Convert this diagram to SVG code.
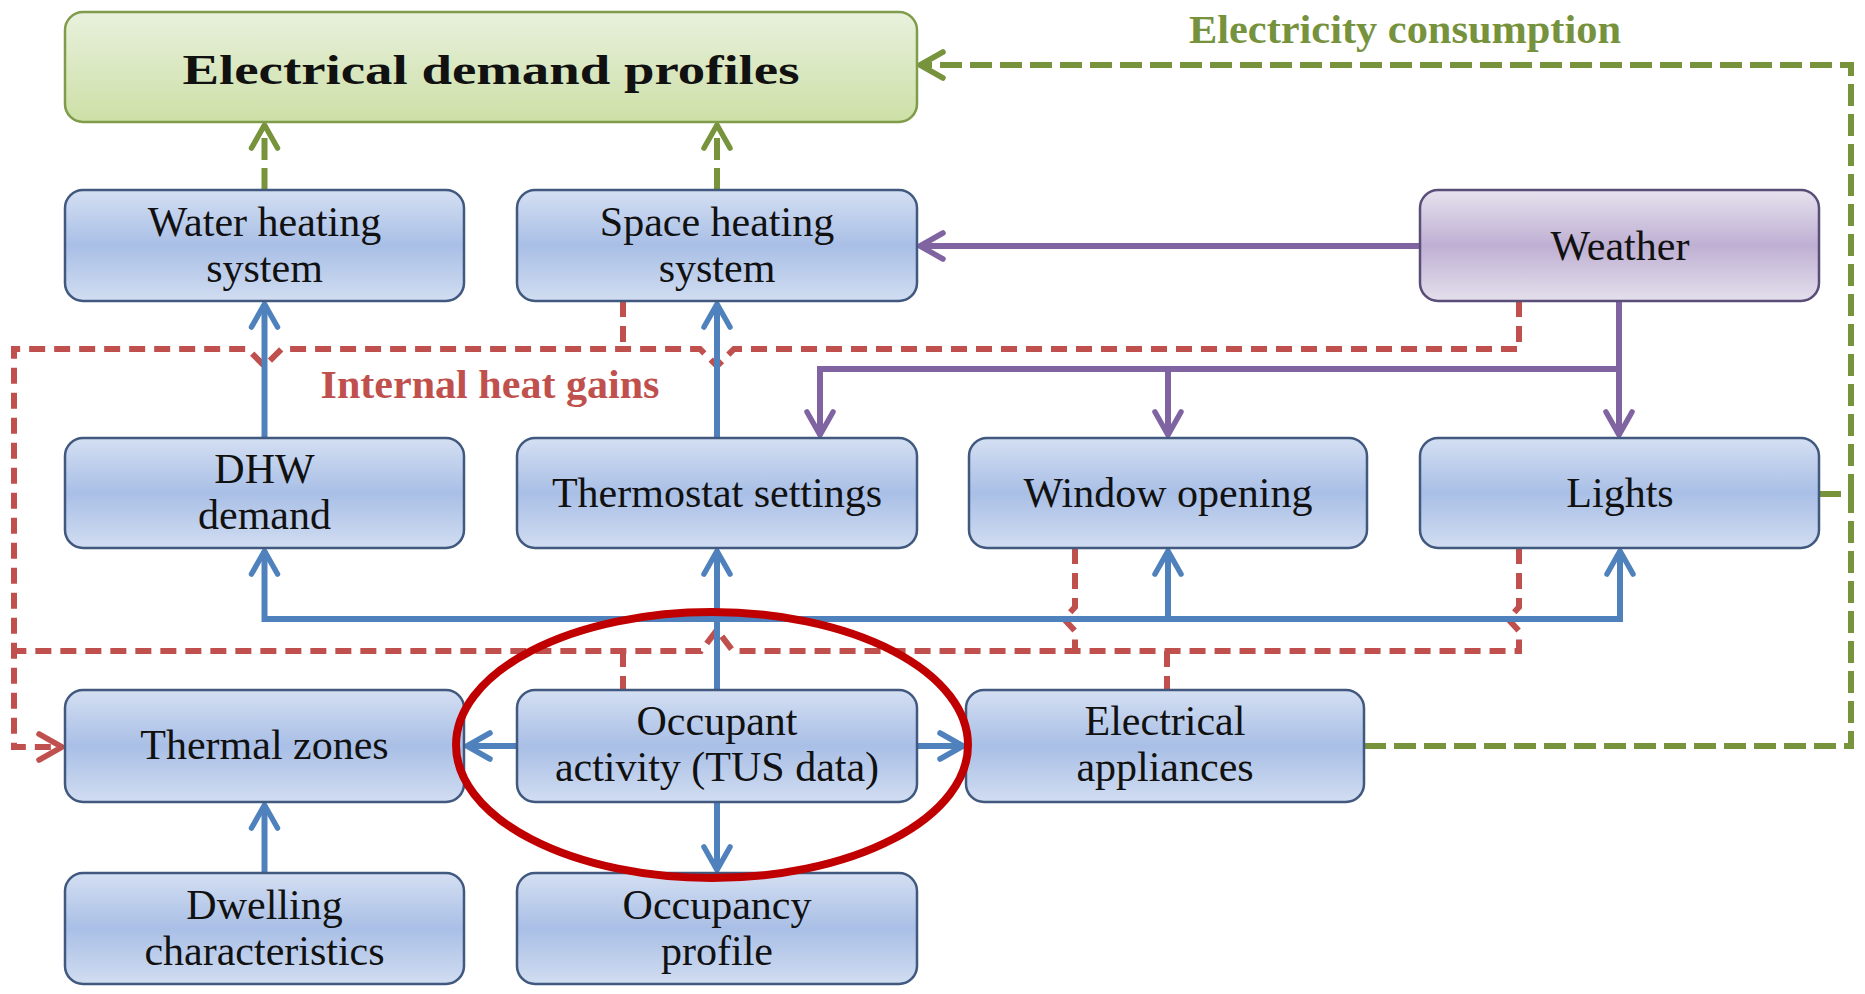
<svg xmlns="http://www.w3.org/2000/svg" width="1865" height="994" viewBox="0 0 1865 994">
<style>
.node rect{stroke-width:2.5}
.blue rect{fill:url(#gBlue);stroke:#41597f}
.t{font-family:"Liberation Serif","Times New Roman",serif;font-size:42px;fill:#111;text-anchor:middle}
.cb{fill:none;stroke:#4f81bd;stroke-width:6}
.cp{fill:none;stroke:#8064a2;stroke-width:6}
.cr{fill:none;stroke:#c0504d;stroke-width:6;stroke-dasharray:16 9}
.cg{fill:none;stroke:#77933c;stroke-width:6;stroke-dasharray:22 8}
.lbl{font-family:"Liberation Serif","Times New Roman",serif;font-weight:bold;font-size:40px;text-anchor:middle}
</style>
<defs>
<linearGradient id="gBlue" x1="0" y1="0" x2="0" y2="1">
<stop offset="0" stop-color="#d4dff2"/><stop offset="0.5" stop-color="#a9bfe6"/><stop offset="1" stop-color="#d1ddf1"/>
</linearGradient>
<linearGradient id="gPurple" x1="0" y1="0" x2="0" y2="1">
<stop offset="0" stop-color="#e6e2ee"/><stop offset="0.5" stop-color="#bfb0d3"/><stop offset="1" stop-color="#e4dfec"/>
</linearGradient>
<linearGradient id="gGreen" x1="0" y1="0" x2="0" y2="1">
<stop offset="0" stop-color="#e9f1dd"/><stop offset="0.55" stop-color="#d9e7bf"/><stop offset="1" stop-color="#cde0a6"/>
</linearGradient>
<marker id="aB" markerUnits="userSpaceOnUse" markerWidth="40" markerHeight="40" refX="30" refY="20" orient="auto-start-reverse" overflow="visible"><path d="M7 7 L30 20 L7 33" fill="none" stroke="#4f81bd" stroke-width="5.5" stroke-linecap="round" stroke-linejoin="round" stroke-dasharray="none"/></marker>
<marker id="aP" markerUnits="userSpaceOnUse" markerWidth="40" markerHeight="40" refX="30" refY="20" orient="auto-start-reverse" overflow="visible"><path d="M7 7 L30 20 L7 33" fill="none" stroke="#8064a2" stroke-width="5.5" stroke-linecap="round" stroke-linejoin="round" stroke-dasharray="none"/></marker>
<marker id="aR" markerUnits="userSpaceOnUse" markerWidth="40" markerHeight="40" refX="30" refY="20" orient="auto" overflow="visible"><path d="M7 7 L30 20 L7 33" fill="none" stroke="#c0504d" stroke-width="5.5" stroke-linecap="round" stroke-linejoin="round" stroke-dasharray="none"/></marker>
<marker id="aG" markerUnits="userSpaceOnUse" markerWidth="40" markerHeight="40" refX="30" refY="20" orient="auto" overflow="visible"><path d="M7 7 L30 20 L7 33" fill="none" stroke="#77933c" stroke-width="5.5" stroke-linecap="round" stroke-linejoin="round" stroke-dasharray="none"/></marker>
</defs>
<rect width="1865" height="994" fill="#ffffff"/>

<g id="connectors">
<!-- green electricity flows -->
<path class="cg" d="M264.5 190 V125" marker-end="url(#aG)"/>
<path class="cg" d="M717 190 V125" marker-end="url(#aG)"/>
<path class="cg" d="M1819 494 H1851 V65 H920" marker-end="url(#aG)"/>
<path class="cg" d="M1364 746 H1851 V494"/>
<!-- red internal heat gains -->
<path class="cr" d="M1519 301 V349 H734 L717 366 L700 349 H281.5 L264.5 366 L247.5 349 H14 V747 H62" marker-end="url(#aR)"/>
<path class="cr" d="M623 301 V349"/>
<path class="cr" d="M1519 548 V607 L1508 619 L1519 631 V651 H733 L717 630 L701 651 H14"/>
<path class="cr" d="M1075 548 V607 L1064 619 L1075 631 V651"/>
<path class="cr" d="M1167 651 V690"/>
<path class="cr" d="M623 651 V690"/>
<!-- purple weather -->
<path class="cp" d="M1421 246 H920" marker-end="url(#aP)"/>
<path class="cp" d="M1619 301 V435" marker-end="url(#aP)"/>
<path class="cp" d="M1619 369 H820 V435" marker-end="url(#aP)"/>
<path class="cp" d="M1168 369 V435" marker-end="url(#aP)"/>
<!-- blue occupant flows -->
<path class="cb" d="M264.5 438 V304" marker-end="url(#aB)"/>
<path class="cb" d="M717 438 V304" marker-end="url(#aB)"/>
<path class="cb" d="M717 690 V551" marker-end="url(#aB)"/>
<path class="cb" d="M264.5 551 V619 H1620 V551" marker-start="url(#aB)" marker-end="url(#aB)"/>
<path class="cb" d="M1168 619 V551" marker-end="url(#aB)"/>
<path class="cb" d="M517 746 H467" marker-end="url(#aB)"/>
<path class="cb" d="M917 746 H963" marker-end="url(#aB)"/>
<path class="cb" d="M717 802 V870" marker-end="url(#aB)"/>
<path class="cb" d="M264.5 873 V805" marker-end="url(#aB)"/>
<text class="lbl" x="1405" y="43" fill="#76923c" textLength="432" lengthAdjust="spacingAndGlyphs">Electricity consumption</text>
<text class="lbl" x="490" y="398" fill="#c0504d" textLength="339" lengthAdjust="spacingAndGlyphs">Internal heat gains</text>
</g>

<g id="electrical-demand-profiles" class="node">
<rect x="65" y="12" width="852" height="110" rx="18" fill="url(#gGreen)" stroke="#7f9c4a"/>
<text class="t" x="491" y="84" font-weight="bold" font-size="56" textLength="617" lengthAdjust="spacingAndGlyphs">Electrical demand profiles</text>
</g>
<g id="water-heating-system" class="node blue">
<rect x="65" y="190" width="399" height="111" rx="18"/>
<text class="t" x="264.5" y="236">Water heating</text><text class="t" x="264.5" y="282">system</text>
</g>
<g id="space-heating-system" class="node blue">
<rect x="517" y="190" width="400" height="111" rx="18"/>
<text class="t" x="717" y="236">Space heating</text><text class="t" x="717" y="282">system</text>
</g>
<g id="weather" class="node">
<rect x="1420" y="190" width="399" height="111" rx="18" fill="url(#gPurple)" stroke="#5a4d78"/>
<text class="t" x="1620" y="260">Weather</text>
</g>
<g id="dhw-demand" class="node blue">
<rect x="65" y="438" width="399" height="110" rx="18"/>
<text class="t" x="264.5" y="483">DHW</text><text class="t" x="264.5" y="529">demand</text>
</g>
<g id="thermostat-settings" class="node blue">
<rect x="517" y="438" width="400" height="110" rx="18"/>
<text class="t" x="717" y="507">Thermostat settings</text>
</g>
<g id="window-opening" class="node blue">
<rect x="969" y="438" width="398" height="110" rx="18"/>
<text class="t" x="1168" y="507">Window opening</text>
</g>
<g id="lights" class="node blue">
<rect x="1420" y="438" width="399" height="110" rx="18"/>
<text class="t" x="1620" y="507">Lights</text>
</g>
<g id="thermal-zones" class="node blue">
<rect x="65" y="690" width="399" height="112" rx="18"/>
<text class="t" x="264.5" y="759">Thermal zones</text>
</g>
<g id="occupant-activity" class="node blue">
<rect x="517" y="690" width="400" height="112" rx="18"/>
<text class="t" x="717" y="735">Occupant</text><text class="t" x="717" y="781">activity (TUS data)</text>
</g>
<g id="electrical-appliances" class="node blue">
<rect x="966" y="690" width="398" height="112" rx="18"/>
<text class="t" x="1165" y="735">Electrical</text><text class="t" x="1165" y="781">appliances</text>
</g>
<g id="dwelling-characteristics" class="node blue">
<rect x="65" y="873" width="399" height="111" rx="18"/>
<text class="t" x="264.5" y="919">Dwelling</text><text class="t" x="264.5" y="965">characteristics</text>
</g>
<g id="occupancy-profile" class="node blue">
<rect x="517" y="873" width="400" height="111" rx="18"/>
<text class="t" x="717" y="919">Occupancy</text><text class="t" x="717" y="965">profile</text>
</g>

<g id="highlight">
<ellipse cx="712" cy="745" rx="256" ry="133" fill="none" stroke="#c00000" stroke-width="8"/>
</g>
</svg>
